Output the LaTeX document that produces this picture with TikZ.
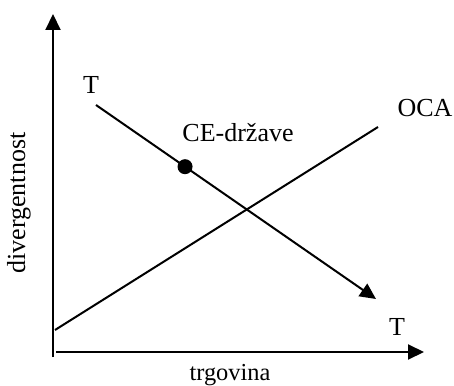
\documentclass[tikz,border=0pt]{standalone}
\usepackage{fontspec}
\setmainfont{Liberation Serif}
\usepackage{tikz}
\usetikzlibrary{arrows.meta,calc}

\begin{document}
\begin{tikzpicture}[x=0.5pt,y=0.5pt,
        txt/.style={font=\fontsize{13}{15}\selectfont,inner sep=0pt},
        axis/.style={line width=1pt,-{Triangle[length=8pt,width=7.5pt]}},
        curve/.style={line width=1pt},
        dot/.style={circle,fill=black,minimum size=7.5pt,inner sep=0pt}]
    \useasboundingbox (0,0) rectangle (454,385);

    % Axes
    \coordinate (y0) at (53,28);
    \coordinate (ytop) at (53,371);
    \coordinate (x0) at (56,33);
    \coordinate (xright) at (424,33);
    \draw[axis] (y0) -- (ytop);
    \draw[axis] (x0) -- (xright);
    \node[txt,rotate=90] (ylab) at (19,182) {divergentnost};
    \node[txt,font=\fontsize{12.2}{14}\selectfont] (xlab) at (230,10) {trgovina};

    % OCA line
    \coordinate (oca0) at (55,55);
    \coordinate (oca1) at (378,258);
    \draw[curve] (oca0) -- (oca1);
    \node[txt] (ocalab) at (425,277) {OCA};

    % T line
    \coordinate (t0) at (96,280);
    \coordinate (t1) at (376,86);
    \draw[curve,-{Triangle[length=8pt,width=7.5pt]}] (t0) -- (t1);
    \node[txt] (ttop) at (91,300) {T};
    \node[txt] (tbot) at (397,58) {T};

    % CE countries
    \node[dot] (ce) at ($(t0)!0.318!(t1)$) {};
    \node[txt] (celab) at (238,252) {CE-države};
\end{tikzpicture}
\end{document}
